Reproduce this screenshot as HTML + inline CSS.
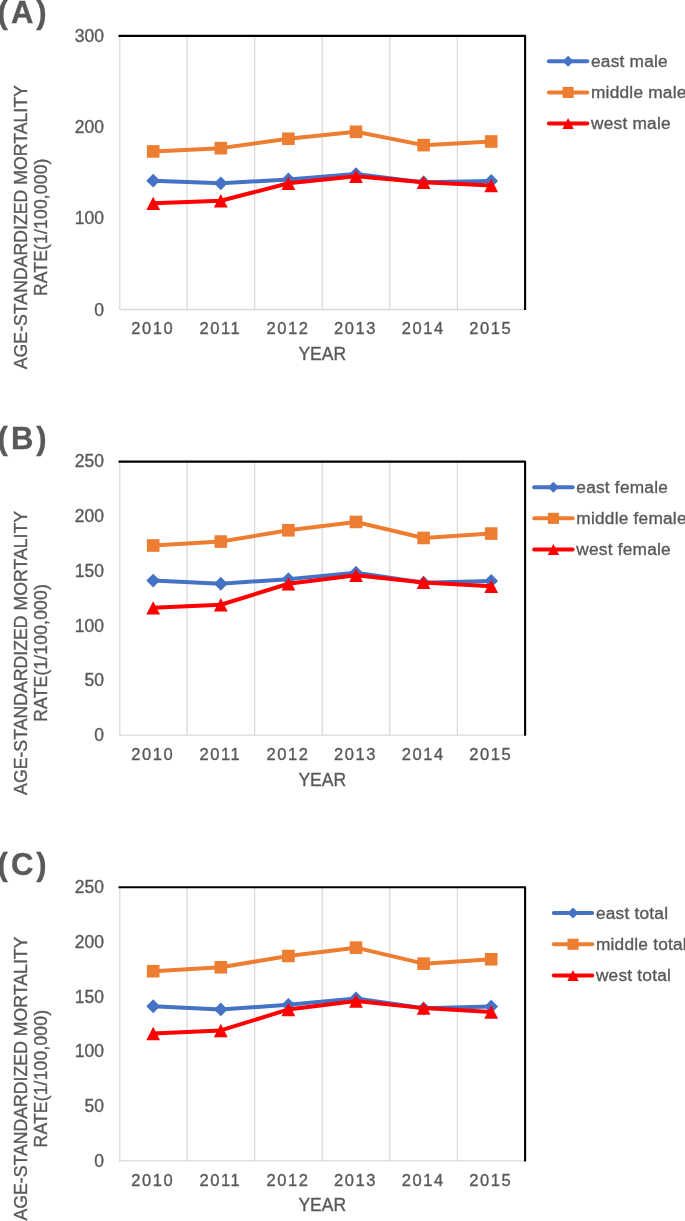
<!DOCTYPE html>
<html><head><meta charset="utf-8"><style>
html,body{margin:0;padding:0;background:#fff;width:685px;height:1221px;overflow:hidden}
svg{display:block;position:absolute;left:0;top:0;will-change:transform}
text{font-family:"Liberation Sans",sans-serif;stroke:#595959;stroke-width:0.35px}
</style></head><body>
<svg width="685" height="1221" viewBox="0 0 685 1221" font-family="Liberation Sans, sans-serif">
<g><text x="-2.4" y="22.7" font-size="31" font-weight="bold" letter-spacing="3" fill="#595959">(A)</text><line x1="187.00" y1="35.70" x2="187.00" y2="309.50" stroke="#D9D9D9" stroke-width="1.3"/><line x1="254.60" y1="35.70" x2="254.60" y2="309.50" stroke="#D9D9D9" stroke-width="1.3"/><line x1="322.20" y1="35.70" x2="322.20" y2="309.50" stroke="#D9D9D9" stroke-width="1.3"/><line x1="389.80" y1="35.70" x2="389.80" y2="309.50" stroke="#D9D9D9" stroke-width="1.3"/><line x1="457.40" y1="35.70" x2="457.40" y2="309.50" stroke="#D9D9D9" stroke-width="1.3"/><line x1="119.80" y1="35.70" x2="119.80" y2="310.00" stroke="#D9D9D9" stroke-width="1.3"/><line x1="119.40" y1="309.50" x2="525.10" y2="309.50" stroke="#D9D9D9" stroke-width="1.3"/><path d="M118.50 35.90H525.10V310.00" fill="none" stroke="#000" stroke-width="2.1" stroke-linejoin="round"/><text x="104" y="315.50" font-size="17.5" text-anchor="end" fill="#595959">0</text><text x="104" y="224.23" font-size="17.5" text-anchor="end" fill="#595959">100</text><text x="104" y="132.97" font-size="17.5" text-anchor="end" fill="#595959">200</text><text x="104" y="41.70" font-size="17.5" text-anchor="end" fill="#595959">300</text><text x="152.80" y="334.10" font-size="16.5" letter-spacing="1.6" text-anchor="middle" fill="#595959">2010</text><text x="220.40" y="334.10" font-size="16.5" letter-spacing="1.6" text-anchor="middle" fill="#595959">2011</text><text x="288.00" y="334.10" font-size="16.5" letter-spacing="1.6" text-anchor="middle" fill="#595959">2012</text><text x="355.60" y="334.10" font-size="16.5" letter-spacing="1.6" text-anchor="middle" fill="#595959">2013</text><text x="423.20" y="334.10" font-size="16.5" letter-spacing="1.6" text-anchor="middle" fill="#595959">2014</text><text x="490.80" y="334.10" font-size="16.5" letter-spacing="1.6" text-anchor="middle" fill="#595959">2015</text><text x="322.25" y="359.60" font-size="17.5" text-anchor="middle" fill="#595959">YEAR</text><text transform="translate(26.5 227.20) rotate(-90)" font-size="17.7" text-anchor="middle" fill="#595959">AGE-STANDARDIZED MORTALITY</text><text transform="translate(47 227.20) rotate(-90)" font-size="17.5" letter-spacing="0.18" text-anchor="middle" fill="#595959">RATE(1/100,000)</text><polyline points="153.20,180.63 220.80,183.28 288.40,179.44 356.00,174.06 423.60,182.37 491.20,180.91" fill="none" stroke="#4472C4" stroke-width="4.0" stroke-linejoin="round" stroke-linecap="round"/><path d="M153.20 173.73L160.10 180.63L153.20 187.53L146.30 180.63Z" fill="#4472C4"/><path d="M220.80 176.38L227.70 183.28L220.80 190.18L213.90 183.28Z" fill="#4472C4"/><path d="M288.40 172.54L295.30 179.44L288.40 186.34L281.50 179.44Z" fill="#4472C4"/><path d="M356.00 167.16L362.90 174.06L356.00 180.96L349.10 174.06Z" fill="#4472C4"/><path d="M423.60 175.47L430.50 182.37L423.60 189.27L416.70 182.37Z" fill="#4472C4"/><path d="M491.20 174.01L498.10 180.91L491.20 187.81L484.30 180.91Z" fill="#4472C4"/><polyline points="153.20,151.43 220.80,148.14 288.40,138.74 356.00,131.80 423.60,145.13 491.20,141.48" fill="none" stroke="#ED7D31" stroke-width="4.0" stroke-linejoin="round" stroke-linecap="round"/><rect x="146.90" y="145.13" width="12.60" height="12.60" fill="#ED7D31"/><rect x="214.50" y="141.84" width="12.60" height="12.60" fill="#ED7D31"/><rect x="282.10" y="132.44" width="12.60" height="12.60" fill="#ED7D31"/><rect x="349.70" y="125.50" width="12.60" height="12.60" fill="#ED7D31"/><rect x="417.30" y="138.83" width="12.60" height="12.60" fill="#ED7D31"/><rect x="484.90" y="135.18" width="12.60" height="12.60" fill="#ED7D31"/><polyline points="153.20,203.36 220.80,200.80 288.40,183.28 356.00,176.25 423.60,182.18 491.20,185.47" fill="none" stroke="#FF0000" stroke-width="4.0" stroke-linejoin="round" stroke-linecap="round"/><path d="M153.20 196.66L160.10 210.06L146.30 210.06Z" fill="#FF0000"/><path d="M220.80 194.10L227.70 207.50L213.90 207.50Z" fill="#FF0000"/><path d="M288.40 176.58L295.30 189.98L281.50 189.98Z" fill="#FF0000"/><path d="M356.00 169.55L362.90 182.95L349.10 182.95Z" fill="#FF0000"/><path d="M423.60 175.48L430.50 188.88L416.70 188.88Z" fill="#FF0000"/><path d="M491.20 178.77L498.10 192.17L484.30 192.17Z" fill="#FF0000"/><line x1="548.90" y1="61.30" x2="587.30" y2="61.30" stroke="#4472C4" stroke-width="4.0" stroke-linecap="round"/><path d="M568.10 55.78L573.62 61.30L568.10 66.82L562.58 61.30Z" fill="#4472C4"/><text x="591.00" y="67.10" font-size="17.3" letter-spacing="0.22" fill="#595959">east male</text><line x1="548.90" y1="92.45" x2="587.30" y2="92.45" stroke="#ED7D31" stroke-width="4.0" stroke-linecap="round"/><rect x="562.56" y="86.91" width="11.09" height="11.09" fill="#ED7D31"/><text x="591.00" y="98.25" font-size="17.3" letter-spacing="0.22" fill="#595959">middle male</text><line x1="548.90" y1="123.60" x2="587.30" y2="123.60" stroke="#FF0000" stroke-width="4.0" stroke-linecap="round"/><path d="M568.10 118.11L573.76 129.09L562.44 129.09Z" fill="#FF0000"/><text x="591.00" y="129.40" font-size="17.3" letter-spacing="0.22" fill="#595959">west male</text></g>
<g><text x="-2.4" y="448.7" font-size="31" font-weight="bold" letter-spacing="3" fill="#595959">(B)</text><line x1="187.00" y1="461.40" x2="187.00" y2="735.20" stroke="#D9D9D9" stroke-width="1.3"/><line x1="254.60" y1="461.40" x2="254.60" y2="735.20" stroke="#D9D9D9" stroke-width="1.3"/><line x1="322.20" y1="461.40" x2="322.20" y2="735.20" stroke="#D9D9D9" stroke-width="1.3"/><line x1="389.80" y1="461.40" x2="389.80" y2="735.20" stroke="#D9D9D9" stroke-width="1.3"/><line x1="457.40" y1="461.40" x2="457.40" y2="735.20" stroke="#D9D9D9" stroke-width="1.3"/><line x1="119.80" y1="461.40" x2="119.80" y2="735.70" stroke="#D9D9D9" stroke-width="1.3"/><line x1="119.40" y1="735.20" x2="525.10" y2="735.20" stroke="#D9D9D9" stroke-width="1.3"/><path d="M118.50 461.60H525.10V735.70" fill="none" stroke="#000" stroke-width="2.1" stroke-linejoin="round"/><text x="104" y="741.20" font-size="17.5" text-anchor="end" fill="#595959">0</text><text x="104" y="686.44" font-size="17.5" text-anchor="end" fill="#595959">50</text><text x="104" y="631.68" font-size="17.5" text-anchor="end" fill="#595959">100</text><text x="104" y="576.92" font-size="17.5" text-anchor="end" fill="#595959">150</text><text x="104" y="522.16" font-size="17.5" text-anchor="end" fill="#595959">200</text><text x="104" y="467.40" font-size="17.5" text-anchor="end" fill="#595959">250</text><text x="152.80" y="760.20" font-size="16.5" letter-spacing="1.6" text-anchor="middle" fill="#595959">2010</text><text x="220.40" y="760.20" font-size="16.5" letter-spacing="1.6" text-anchor="middle" fill="#595959">2011</text><text x="288.00" y="760.20" font-size="16.5" letter-spacing="1.6" text-anchor="middle" fill="#595959">2012</text><text x="355.60" y="760.20" font-size="16.5" letter-spacing="1.6" text-anchor="middle" fill="#595959">2013</text><text x="423.20" y="760.20" font-size="16.5" letter-spacing="1.6" text-anchor="middle" fill="#595959">2014</text><text x="490.80" y="760.20" font-size="16.5" letter-spacing="1.6" text-anchor="middle" fill="#595959">2015</text><text x="322.25" y="785.70" font-size="17.5" text-anchor="middle" fill="#595959">YEAR</text><text transform="translate(26.5 652.90) rotate(-90)" font-size="17.7" text-anchor="middle" fill="#595959">AGE-STANDARDIZED MORTALITY</text><text transform="translate(47 652.90) rotate(-90)" font-size="17.5" letter-spacing="0.18" text-anchor="middle" fill="#595959">RATE(1/100,000)</text><polyline points="153.20,580.56 220.80,583.73 288.40,579.13 356.00,572.67 423.60,582.64 491.20,580.89" fill="none" stroke="#4472C4" stroke-width="4.0" stroke-linejoin="round" stroke-linecap="round"/><path d="M153.20 573.66L160.10 580.56L153.20 587.46L146.30 580.56Z" fill="#4472C4"/><path d="M220.80 576.83L227.70 583.73L220.80 590.63L213.90 583.73Z" fill="#4472C4"/><path d="M288.40 572.23L295.30 579.13L288.40 586.03L281.50 579.13Z" fill="#4472C4"/><path d="M356.00 565.77L362.90 572.67L356.00 579.57L349.10 572.67Z" fill="#4472C4"/><path d="M423.60 575.74L430.50 582.64L423.60 589.54L416.70 582.64Z" fill="#4472C4"/><path d="M491.20 573.99L498.10 580.89L491.20 587.79L484.30 580.89Z" fill="#4472C4"/><polyline points="153.20,545.51 220.80,541.57 288.40,530.29 356.00,521.96 423.60,537.95 491.20,533.57" fill="none" stroke="#ED7D31" stroke-width="4.0" stroke-linejoin="round" stroke-linecap="round"/><rect x="146.90" y="539.21" width="12.60" height="12.60" fill="#ED7D31"/><rect x="214.50" y="535.27" width="12.60" height="12.60" fill="#ED7D31"/><rect x="282.10" y="523.99" width="12.60" height="12.60" fill="#ED7D31"/><rect x="349.70" y="515.66" width="12.60" height="12.60" fill="#ED7D31"/><rect x="417.30" y="531.65" width="12.60" height="12.60" fill="#ED7D31"/><rect x="484.90" y="527.27" width="12.60" height="12.60" fill="#ED7D31"/><polyline points="153.20,607.83 220.80,604.76 288.40,583.73 356.00,575.30 423.60,582.42 491.20,586.36" fill="none" stroke="#FF0000" stroke-width="4.0" stroke-linejoin="round" stroke-linecap="round"/><path d="M153.20 601.13L160.10 614.53L146.30 614.53Z" fill="#FF0000"/><path d="M220.80 598.06L227.70 611.46L213.90 611.46Z" fill="#FF0000"/><path d="M288.40 577.03L295.30 590.43L281.50 590.43Z" fill="#FF0000"/><path d="M356.00 568.60L362.90 582.00L349.10 582.00Z" fill="#FF0000"/><path d="M423.60 575.72L430.50 589.12L416.70 589.12Z" fill="#FF0000"/><path d="M491.20 579.66L498.10 593.06L484.30 593.06Z" fill="#FF0000"/><line x1="534.20" y1="487.20" x2="572.60" y2="487.20" stroke="#4472C4" stroke-width="4.0" stroke-linecap="round"/><path d="M553.40 481.68L558.92 487.20L553.40 492.72L547.88 487.20Z" fill="#4472C4"/><text x="576.30" y="493.00" font-size="17.3" letter-spacing="0.22" fill="#595959">east female</text><line x1="534.20" y1="518.35" x2="572.60" y2="518.35" stroke="#ED7D31" stroke-width="4.0" stroke-linecap="round"/><rect x="547.86" y="512.81" width="11.09" height="11.09" fill="#ED7D31"/><text x="576.30" y="524.15" font-size="17.3" letter-spacing="0.22" fill="#595959">middle female</text><line x1="534.20" y1="549.50" x2="572.60" y2="549.50" stroke="#FF0000" stroke-width="4.0" stroke-linecap="round"/><path d="M553.40 544.01L559.06 554.99L547.74 554.99Z" fill="#FF0000"/><text x="576.30" y="555.30" font-size="17.3" letter-spacing="0.22" fill="#595959">west female</text></g>
<g><text x="-2.4" y="874.9" font-size="31" font-weight="bold" letter-spacing="3" fill="#595959">(C)</text><line x1="187.00" y1="887.10" x2="187.00" y2="1160.90" stroke="#D9D9D9" stroke-width="1.3"/><line x1="254.60" y1="887.10" x2="254.60" y2="1160.90" stroke="#D9D9D9" stroke-width="1.3"/><line x1="322.20" y1="887.10" x2="322.20" y2="1160.90" stroke="#D9D9D9" stroke-width="1.3"/><line x1="389.80" y1="887.10" x2="389.80" y2="1160.90" stroke="#D9D9D9" stroke-width="1.3"/><line x1="457.40" y1="887.10" x2="457.40" y2="1160.90" stroke="#D9D9D9" stroke-width="1.3"/><line x1="119.80" y1="887.10" x2="119.80" y2="1161.40" stroke="#D9D9D9" stroke-width="1.3"/><line x1="119.40" y1="1160.90" x2="525.10" y2="1160.90" stroke="#D9D9D9" stroke-width="1.3"/><path d="M118.50 887.30H525.10V1161.40" fill="none" stroke="#000" stroke-width="2.1" stroke-linejoin="round"/><text x="104" y="1166.90" font-size="17.5" text-anchor="end" fill="#595959">0</text><text x="104" y="1112.14" font-size="17.5" text-anchor="end" fill="#595959">50</text><text x="104" y="1057.38" font-size="17.5" text-anchor="end" fill="#595959">100</text><text x="104" y="1002.62" font-size="17.5" text-anchor="end" fill="#595959">150</text><text x="104" y="947.86" font-size="17.5" text-anchor="end" fill="#595959">200</text><text x="104" y="893.10" font-size="17.5" text-anchor="end" fill="#595959">250</text><text x="152.80" y="1185.90" font-size="16.5" letter-spacing="1.6" text-anchor="middle" fill="#595959">2010</text><text x="220.40" y="1185.90" font-size="16.5" letter-spacing="1.6" text-anchor="middle" fill="#595959">2011</text><text x="288.00" y="1185.90" font-size="16.5" letter-spacing="1.6" text-anchor="middle" fill="#595959">2012</text><text x="355.60" y="1185.90" font-size="16.5" letter-spacing="1.6" text-anchor="middle" fill="#595959">2013</text><text x="423.20" y="1185.90" font-size="16.5" letter-spacing="1.6" text-anchor="middle" fill="#595959">2014</text><text x="490.80" y="1185.90" font-size="16.5" letter-spacing="1.6" text-anchor="middle" fill="#595959">2015</text><text x="322.25" y="1211.40" font-size="17.5" text-anchor="middle" fill="#595959">YEAR</text><text transform="translate(26.5 1078.60) rotate(-90)" font-size="17.7" text-anchor="middle" fill="#595959">AGE-STANDARDIZED MORTALITY</text><text transform="translate(47 1078.60) rotate(-90)" font-size="17.5" letter-spacing="0.18" text-anchor="middle" fill="#595959">RATE(1/100,000)</text><polyline points="153.20,1006.26 220.80,1009.43 288.40,1004.83 356.00,998.37 423.60,1008.34 491.20,1006.59" fill="none" stroke="#4472C4" stroke-width="4.0" stroke-linejoin="round" stroke-linecap="round"/><path d="M153.20 999.36L160.10 1006.26L153.20 1013.16L146.30 1006.26Z" fill="#4472C4"/><path d="M220.80 1002.53L227.70 1009.43L220.80 1016.33L213.90 1009.43Z" fill="#4472C4"/><path d="M288.40 997.93L295.30 1004.83L288.40 1011.73L281.50 1004.83Z" fill="#4472C4"/><path d="M356.00 991.47L362.90 998.37L356.00 1005.27L349.10 998.37Z" fill="#4472C4"/><path d="M423.60 1001.44L430.50 1008.34L423.60 1015.24L416.70 1008.34Z" fill="#4472C4"/><path d="M491.20 999.69L498.10 1006.59L491.20 1013.49L484.30 1006.59Z" fill="#4472C4"/><polyline points="153.20,971.21 220.80,967.27 288.40,955.99 356.00,947.66 423.60,963.65 491.20,959.27" fill="none" stroke="#ED7D31" stroke-width="4.0" stroke-linejoin="round" stroke-linecap="round"/><rect x="146.90" y="964.91" width="12.60" height="12.60" fill="#ED7D31"/><rect x="214.50" y="960.97" width="12.60" height="12.60" fill="#ED7D31"/><rect x="282.10" y="949.69" width="12.60" height="12.60" fill="#ED7D31"/><rect x="349.70" y="941.36" width="12.60" height="12.60" fill="#ED7D31"/><rect x="417.30" y="957.35" width="12.60" height="12.60" fill="#ED7D31"/><rect x="484.90" y="952.97" width="12.60" height="12.60" fill="#ED7D31"/><polyline points="153.20,1033.53 220.80,1030.46 288.40,1009.43 356.00,1001.00 423.60,1008.12 491.20,1012.06" fill="none" stroke="#FF0000" stroke-width="4.0" stroke-linejoin="round" stroke-linecap="round"/><path d="M153.20 1026.83L160.10 1040.23L146.30 1040.23Z" fill="#FF0000"/><path d="M220.80 1023.76L227.70 1037.16L213.90 1037.16Z" fill="#FF0000"/><path d="M288.40 1002.73L295.30 1016.13L281.50 1016.13Z" fill="#FF0000"/><path d="M356.00 994.30L362.90 1007.70L349.10 1007.70Z" fill="#FF0000"/><path d="M423.60 1001.42L430.50 1014.82L416.70 1014.82Z" fill="#FF0000"/><path d="M491.20 1005.36L498.10 1018.76L484.30 1018.76Z" fill="#FF0000"/><line x1="553.80" y1="913.10" x2="592.20" y2="913.10" stroke="#4472C4" stroke-width="4.0" stroke-linecap="round"/><path d="M573.00 907.58L578.52 913.10L573.00 918.62L567.48 913.10Z" fill="#4472C4"/><text x="595.90" y="918.90" font-size="17.3" letter-spacing="0.22" fill="#595959">east total</text><line x1="553.80" y1="944.25" x2="592.20" y2="944.25" stroke="#ED7D31" stroke-width="4.0" stroke-linecap="round"/><rect x="567.46" y="938.71" width="11.09" height="11.09" fill="#ED7D31"/><text x="595.90" y="950.05" font-size="17.3" letter-spacing="0.22" fill="#595959">middle total</text><line x1="553.80" y1="975.40" x2="592.20" y2="975.40" stroke="#FF0000" stroke-width="4.0" stroke-linecap="round"/><path d="M573.00 969.91L578.66 980.89L567.34 980.89Z" fill="#FF0000"/><text x="595.90" y="981.20" font-size="17.3" letter-spacing="0.22" fill="#595959">west total</text></g>
</svg>
</body></html>
